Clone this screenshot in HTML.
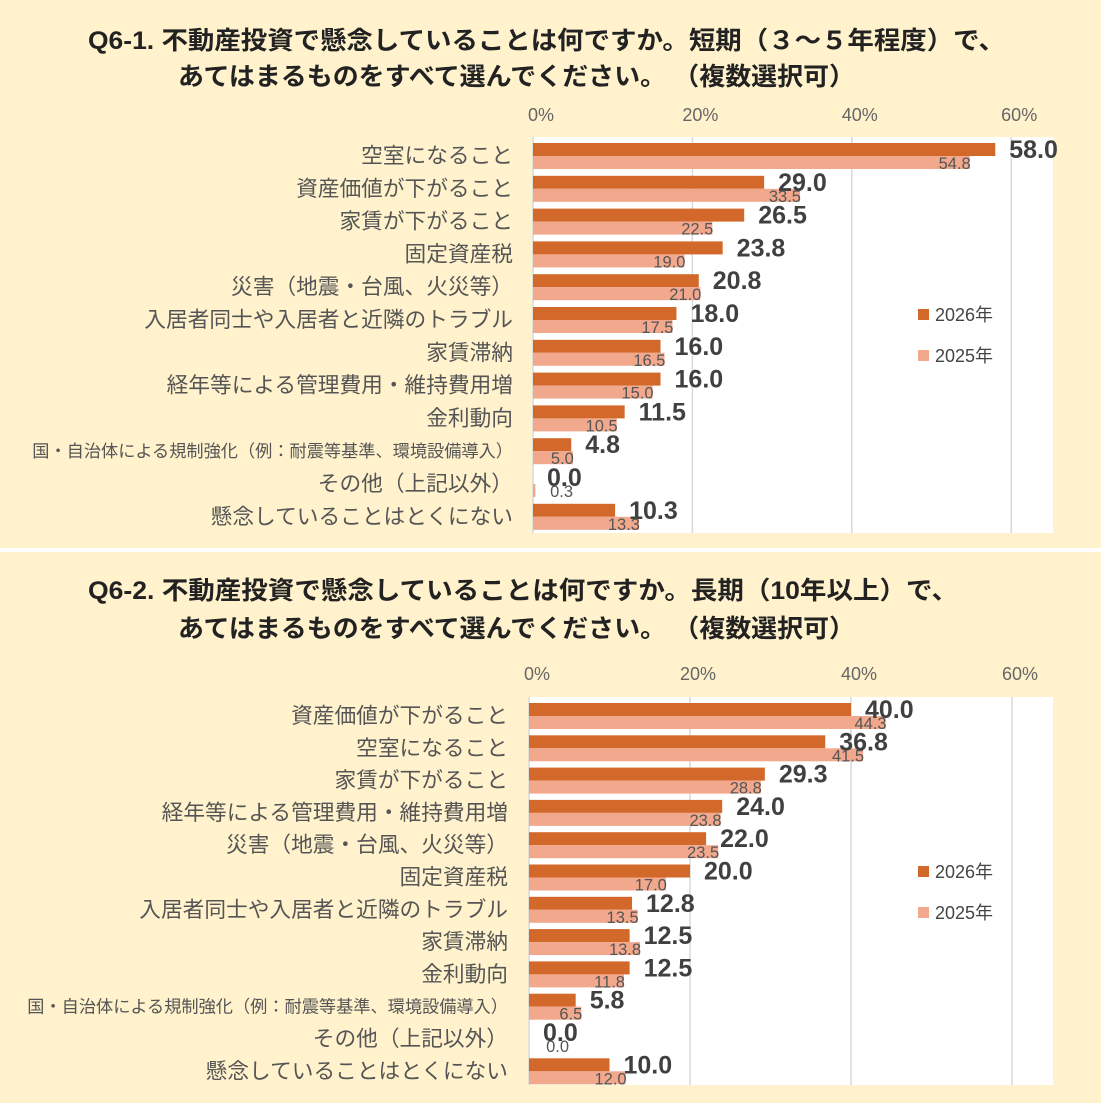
<!DOCTYPE html>
<html><head><meta charset="utf-8">
<style>
body{margin:0;background:#fff;}
svg{display:block;font-family:"Liberation Sans","Noto Sans CJK JP",sans-serif;}
</style></head>
<body>
<svg id="s" width="1101" height="1103" viewBox="0 0 1101 1103">
<rect x="0" y="0" width="1101" height="548" fill="#FFF2CC"/>
<rect x="0" y="552" width="1101" height="551" fill="#FFF2CC"/>
<text x="88" y="49" textLength="917" lengthAdjust="spacingAndGlyphs" font-size="25" font-weight="bold" fill="#222">Q6-1. 不動産投資で懸念していることは何ですか。短期（３～５年程度）で、</text>
<text x="178" y="85" textLength="677" lengthAdjust="spacingAndGlyphs" font-size="25" font-weight="bold" fill="#222">あてはまるものをすべて選んでください。 （複数選択可）</text>
<text x="88" y="599" textLength="870" lengthAdjust="spacingAndGlyphs" font-size="25" font-weight="bold" fill="#222">Q6-2. 不動産投資で懸念していることは何ですか。長期（10年以上）で、</text>
<text x="178" y="637" textLength="677" lengthAdjust="spacingAndGlyphs" font-size="25" font-weight="bold" fill="#222">あてはまるものをすべて選んでください。 （複数選択可）</text>
</svg>
<script>
const cats1 = ["空室になること","資産価値が下がること","家賃が下がること","固定資産税","災害（地震・台風、火災等）","入居者同士や入居者と近隣のトラブル","家賃滞納","経年等による管理費用・維持費用増","金利動向","国・自治体による規制強化（例：耐震等基準、環境設備導入）","その他（上記以外）","懸念していることはとくにない"];
const v2026a = [58.0,29.0,26.5,23.8,20.8,18.0,16.0,16.0,11.5,4.8,0.0,10.3];
const v2025a = [54.8,33.5,22.5,19.0,21.0,17.5,16.5,15.0,10.5,5.0,0.3,13.3];
const cats2 = ["資産価値が下がること","空室になること","家賃が下がること","経年等による管理費用・維持費用増","災害（地震・台風、火災等）","固定資産税","入居者同士や入居者と近隣のトラブル","家賃滞納","金利動向","国・自治体による規制強化（例：耐震等基準、環境設備導入）","その他（上記以外）","懸念していることはとくにない"];
const v2026b = [40.0,36.8,29.3,24.0,22.0,20.0,12.8,12.5,12.5,5.8,0.0,10.0];
const v2025b = [44.3,41.5,28.8,23.8,23.5,17.0,13.5,13.8,11.8,6.5,0.0,12.0];
const ticks = [0,20,40,60];
const tickLabels = ["0%","20%","40%","60%"];
const NS="http://www.w3.org/2000/svg";
const svg=document.getElementById('s');
function mk(tag,attrs,parent){const e=document.createElementNS(NS,tag);for(const k in attrs)e.setAttribute(k,attrs[k]);(parent||svg).appendChild(e);return e;}
function drawChart(p,cats,a,b,key){
  const x=v=>p.x0+v*p.k;
  const y=i=>p.c0+i*p.step;
  const bg=mk('rect',{x:p.x0,y:p.top,width:p.right-p.x0,height:p.bottom-p.top,fill:'#fff'});
  
  
  ticks.forEach((t,i)=>{
    const g=mk('line',{x1:x(t),x2:x(t),y1:p.top,y2:p.bottom,stroke:'#d9d9d9','stroke-width':1.5});
    
    
    const tl=mk('text',{x:x(t)+8,y:p.tickY,'text-anchor':'middle','font-size':18,fill:'#666'});
    tl.textContent=tickLabels[i];
    
    
  });
  cats.forEach((c,i)=>{
    const cy=y(i);
    const small=c.length>25;
    const lab=mk('text',{x:p.labelX,y:cy+(small?6:7),'text-anchor':'end','font-size':small?17.2:21.7,fill:'#555'});
    lab.textContent=c;
    
    
    const b1=mk('rect',{x:p.x0,y:cy-13,width:Math.max(0,x(a[i])-p.x0),height:13,fill:'#D2692A'});
    
    
    const b2=mk('rect',{x:p.x0,y:cy,width:Math.max(0,x(b[i])-p.x0),height:13,fill:'#F2A88C'});
    
    
    const t1=mk('text',{x:x(a[i])+14,y:cy+2,'font-size':25,'font-weight':'bold',fill:'#404040'});
    t1.textContent=a[i].toFixed(1);
    
    
    const t2=mk('text',{x:Math.max(x(b[i])+1,p.x0+40),y:cy+13,'text-anchor':'end','font-size':16.5,fill:'#555'});
    t2.textContent=b[i].toFixed(1);
    
    
  });
  [['2026年','#D2692A',p.legY],['2025年','#F2A88C',p.legY+41]].forEach(l=>{
    const r=mk('rect',{x:918,y:l[2]-11,width:11,height:11,fill:l[1]});
    
    
    const t=mk('text',{x:935,y:l[2]+1,'font-size':18,fill:'#444'});
    t.textContent=l[0];
    
    
  });
}
drawChart({x0:533,k:7.97,right:1053,top:137,bottom:533,c0:156,step:32.8,tickY:121,labelX:513,legY:320},cats1,v2026a,v2025a,'short-term');
drawChart({x0:529,k:8.05,right:1053,top:697,bottom:1085,c0:716,step:32.3,tickY:680,labelX:508,legY:877},cats2,v2026b,v2025b,'long-term');
</script>
</body></html>
